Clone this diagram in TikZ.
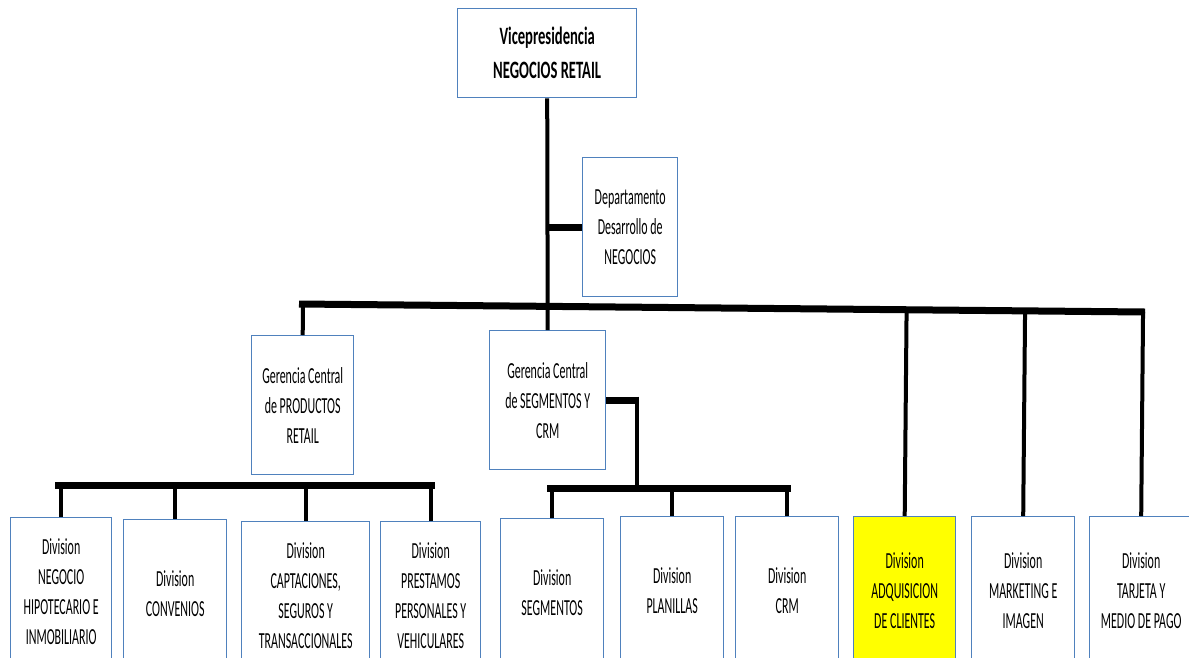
\documentclass[tikz,border=0pt]{standalone}
\usepackage{fontspec}
\setmainfont{Carlito}[FakeStretch=0.52]
\newfontfamily\vpfont{Carlito}[FakeStretch=0.585]
\usetikzlibrary{calc}
\definecolor{boxblue}{RGB}{79,129,189}
\definecolor{hilite}{RGB}{255,255,0}
\begin{document}
\begin{tikzpicture}[x=1pt,y=-1pt,
  box/.style 2 args={draw=boxblue, line width=1.4pt, fill=white, anchor=north west,
    inner sep=0pt, align=center, minimum width=#1pt, minimum height=#2pt,
    font=\fontsize{23}{30}\selectfont, text=black},
  bus/.style={line width=7pt, black},
  drop/.style={line width=4pt, black}]
\useasboundingbox (0,0) rectangle (1189,657);
\clip (0,0) rectangle (1189,657);
% nodes
\node[box={179}{89}, font=\vpfont\bfseries\fontsize{25}{34}\selectfont] (vp) at (457,8) {Vicepresidencia\\NEGOCIOS RETAIL};
\node[box={95}{139}] (dept) at (582,157) {Departamento\\Desarrollo de\\NEGOCIOS};
\node[box={102}{139}] (gprod) at (251,335) {Gerencia Central\\de PRODUCTOS\\RETAIL};
\node[box={116}{139}] (gseg) at (489,330) {Gerencia Central\\de SEGMENTOS Y\\CRM};
\node[box={101}{148}] (d1) at (10,517) {Division\\NEGOCIO\\HIPOTECARIO E\\INMOBILIARIO};
\node[box={103}{148}] (d2) at (123,519) {Division\\CONVENIOS};
\node[box={128}{148}] (d3) at (241,521) {Division\\CAPTACIONES,\\SEGUROS Y\\TRANSACCIONALES};
\node[box={100}{148}] (d4) at (380,521) {Division\\PRESTAMOS\\PERSONALES Y\\VEHICULARES};
\node[box={103}{148}] (d5) at (500,518) {Division\\SEGMENTOS};
\node[box={103}{148}] (d6) at (620,516) {Division\\PLANILLAS};
\node[box={103}{148}] (d7) at (735,516) {Division\\CRM};
\node[box={102}{148}, fill=hilite] (d8) at (853,516) {Division\\ADQUISICION\\DE CLIENTES};
\node[box={103}{148}] (d9) at (971,516) {Division\\MARKETING E\\IMAGEN};
\node[box={103}{148}] (d10) at (1089,516) {Division\\TARJETA Y\\MEDIO DE PAGO};
% main bus
\coordinate (bl) at (299,304);
\coordinate (br) at (1145,312);
\draw[bus] (bl) -- (br);
\draw[drop] (vp.south) -- (gseg.north);
\draw[bus] (dept.west) -- (dept.west -| vp.south);
\draw[drop] (gprod.north) -- ($(bl)!(gprod.north)!(br)$);
\foreach \n in {d8,d9,d10}
  \draw[drop] (\n.north) -- ($(bl)!(\n.north)!(br)$);
% products sub-bus
\coordinate (pl) at (55,485);
\coordinate (pr) at (435,485);
\draw[bus] (pl) -- (pr);
\foreach \n in {d1,d2,d3,d4}
  \draw[drop] (\n.north) -- (\n.north |- pl);
% segments sub-bus
\coordinate (sl) at (547,488);
\coordinate (sr) at (791,488);
\draw[bus] (sl) -- (sr);
\draw[bus] (gseg.east) -- ++(31,0) coordinate (sc);
\draw[drop] ($(sc)+(0,-3.5)$) -- (sc |- sl);
\foreach \n in {d5,d6,d7}
  \draw[drop] (\n.north) -- (\n.north |- sl);
\end{tikzpicture}
\end{document}
